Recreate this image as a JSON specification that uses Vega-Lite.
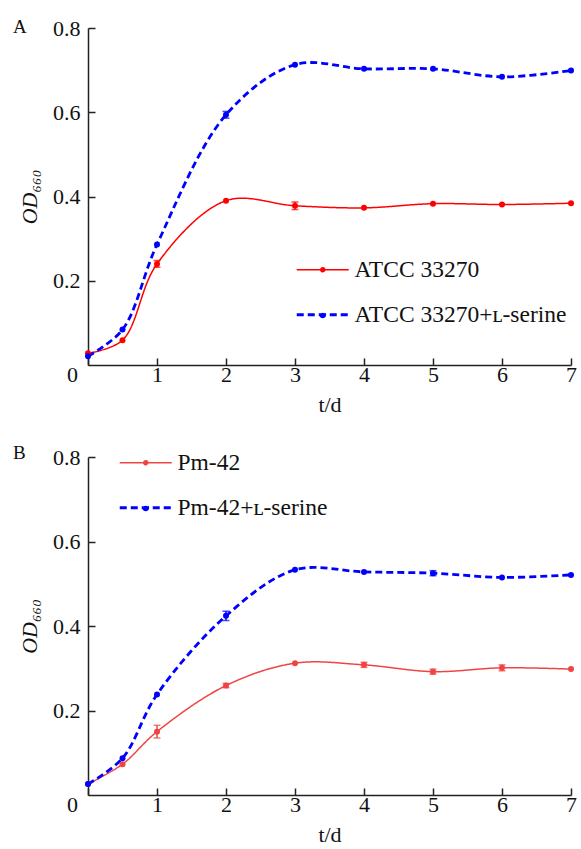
{
  "$schema": "https://vega.github.io/schema/vega-lite/v6.json",
  "background": "white",
  "padding": {"left": 13, "top": 17, "right": 4, "bottom": 3},
  "config": {
    "font": "Liberation Serif",
    "view": {"stroke": null},
    "axis": {
      "labelFont": "Liberation Serif", "labelFontSize": 22, "labelColor": "#111",
      "titleFont": "Liberation Serif", "titleFontSize": 22, "titleFontWeight": "normal", "titleColor": "#111",
      "domain": true, "domainColor": "#222", "domainWidth": 1.5, "ticks": true, "tickColor": "#222", "tickWidth": 1.5, "tickSize": -7,
      "grid": false
    },
    "legend": {
      "orient": "none", "labelFont": "Liberation Serif", "labelFontSize": 23.5, "labelColor": "#111", "labelLimit": 400,
      "symbolType": "M-2.6,0H2.6M0.2,0A0.2,0.2 0 1,1 -0.2,0A0.2,0.2 0 1,1 0.2,0",
      "symbolSize": 400, "symbolStrokeWidth": 2, "rowPadding": 20, "labelOffset": 20, "title": null
    },
    "title": {"font": "Liberation Serif", "fontSize": 19, "fontWeight": "normal", "anchor": "start", "frame": "group", "color": "#111"}
  },
  "resolve": {"scale": {"color": "independent", "strokeDash": "independent", "strokeWidth": "independent"}, "legend": {"color": "independent", "strokeDash": "independent"}},
  "spacing": 29,
  "vconcat": [
    {
      "title": {"text": "A", "offset": -20, "dx": -75},
      "width": 483, "height": 337,
      "data": {"values": [
        {"t": 0, "od": 0.028, "s": "ATCC 33270"},
        {"t": 0.5, "od": 0.059, "s": "ATCC 33270"},
        {"t": 1, "od": 0.240, "lo": 0.232, "hi": 0.248, "s": "ATCC 33270"},
        {"t": 2, "od": 0.390, "s": "ATCC 33270"},
        {"t": 3, "od": 0.378, "lo": 0.369, "hi": 0.387, "s": "ATCC 33270"},
        {"t": 4, "od": 0.373, "s": "ATCC 33270"},
        {"t": 5, "od": 0.383, "s": "ATCC 33270"},
        {"t": 6, "od": 0.381, "s": "ATCC 33270"},
        {"t": 7, "od": 0.384, "s": "ATCC 33270"},
        {"t": 0, "od": 0.021, "s": "ATCC 33270+ʟ-serine"},
        {"t": 0.5, "od": 0.084, "s": "ATCC 33270+ʟ-serine"},
        {"t": 1, "od": 0.286, "s": "ATCC 33270+ʟ-serine"},
        {"t": 2, "od": 0.594, "lo": 0.586, "hi": 0.602, "s": "ATCC 33270+ʟ-serine"},
        {"t": 3, "od": 0.713, "s": "ATCC 33270+ʟ-serine"},
        {"t": 4, "od": 0.703, "s": "ATCC 33270+ʟ-serine"},
        {"t": 5, "od": 0.703, "s": "ATCC 33270+ʟ-serine"},
        {"t": 6, "od": 0.684, "s": "ATCC 33270+ʟ-serine"},
        {"t": 7, "od": 0.699, "s": "ATCC 33270+ʟ-serine"}
      ]},
      "encoding": {
        "x": {"field": "t", "type": "quantitative", "scale": {"domain": [0, 7], "nice": false},
              "axis": {"values": [0, 1, 2, 3, 4, 5, 6, 7], "title": "t/d", "titlePadding": 9, "labelPadding": 6, "labelFlush": false,
                       "labelOffset": {"condition": {"test": "datum.value == 0", "value": -16}, "value": 0}}},
        "y": {"field": "od", "type": "quantitative", "scale": {"domain": [0, 0.8], "nice": false},
              "axis": {"values": [0.2, 0.4, 0.6, 0.8], "format": ".1f", "title": "OD₆₆₀", "titleFontStyle": "italic", "titlePadding": 11, "labelPadding": 15}}
      },
      "layer": [
        {
          "mark": {"type": "line", "interpolate": "catmull-rom"},
          "encoding": {
            "color": {"field": "s", "type": "nominal", "scale": {"domain": ["ATCC 33270", "ATCC 33270+ʟ-serine"], "range": ["#ff0000", "#0000ff"]},
                      "legend": {"legendX": 223, "legendY": 230}},
            "strokeDash": {"field": "s", "type": "nominal", "scale": {"domain": ["ATCC 33270", "ATCC 33270+ʟ-serine"], "range": [[1, 0], [7, 4]]},
                      "legend": {"legendX": 223, "legendY": 230}},
            "strokeWidth": {"field": "s", "type": "nominal", "scale": {"domain": ["ATCC 33270", "ATCC 33270+ʟ-serine"], "range": [1.5, 2.8]}, "legend": null}
          }
        },
        {
          "mark": {"type": "point", "filled": true, "size": 36, "opacity": 1},
          "encoding": {
            "color": {"field": "s", "type": "nominal", "legend": null}
          }
        },
        {
          "transform": [{"filter": "isValid(datum.lo)"}],
          "mark": {"type": "errorbar", "ticks": {"size": 7, "thickness": 1.5}, "thickness": 1.5},
          "encoding": {
            "y": {"field": "lo", "type": "quantitative", "title": "OD₆₆₀"},
            "y2": {"field": "hi"},
            "color": {"field": "s", "type": "nominal", "legend": null}
          }
        }
      ]
    },
    {
      "title": {"text": "B", "offset": -17, "dx": -75},
      "width": 483, "height": 338,
      "data": {"values": [
        {"t": 0, "od": 0.026, "s": "Pm-42"},
        {"t": 0.5, "od": 0.073, "s": "Pm-42"},
        {"t": 1, "od": 0.150, "lo": 0.135, "hi": 0.165, "s": "Pm-42"},
        {"t": 2, "od": 0.259, "lo": 0.254, "hi": 0.264, "s": "Pm-42"},
        {"t": 3, "od": 0.312, "s": "Pm-42"},
        {"t": 4, "od": 0.308, "lo": 0.302, "hi": 0.314, "s": "Pm-42"},
        {"t": 5, "od": 0.292, "lo": 0.286, "hi": 0.298, "s": "Pm-42"},
        {"t": 6, "od": 0.301, "lo": 0.294, "hi": 0.308, "s": "Pm-42"},
        {"t": 7, "od": 0.298, "s": "Pm-42"},
        {"t": 0, "od": 0.026, "s": "Pm-42+ʟ-serine"},
        {"t": 0.5, "od": 0.087, "s": "Pm-42+ʟ-serine"},
        {"t": 1, "od": 0.238, "s": "Pm-42+ʟ-serine"},
        {"t": 2, "od": 0.424, "lo": 0.413, "hi": 0.435, "s": "Pm-42+ʟ-serine"},
        {"t": 3, "od": 0.533, "s": "Pm-42+ʟ-serine"},
        {"t": 4, "od": 0.528, "s": "Pm-42+ʟ-serine"},
        {"t": 5, "od": 0.525, "lo": 0.519, "hi": 0.531, "s": "Pm-42+ʟ-serine"},
        {"t": 6, "od": 0.515, "s": "Pm-42+ʟ-serine"},
        {"t": 7, "od": 0.521, "s": "Pm-42+ʟ-serine"}
      ]},
      "encoding": {
        "x": {"field": "t", "type": "quantitative", "scale": {"domain": [0, 7], "nice": false},
              "axis": {"values": [0, 1, 2, 3, 4, 5, 6, 7], "title": "t/d", "titlePadding": 9, "labelPadding": 6, "labelFlush": false,
                       "labelOffset": {"condition": {"test": "datum.value == 0", "value": -16}, "value": 0}}},
        "y": {"field": "od", "type": "quantitative", "scale": {"domain": [0, 0.8], "nice": false},
              "axis": {"values": [0.2, 0.4, 0.6, 0.8], "format": ".1f", "title": "OD₆₆₀", "titleFontStyle": "italic", "titlePadding": 11, "labelPadding": 15}}
      },
      "layer": [
        {
          "mark": {"type": "line", "interpolate": "catmull-rom"},
          "encoding": {
            "color": {"field": "s", "type": "nominal", "scale": {"domain": ["Pm-42", "Pm-42+ʟ-serine"], "range": ["#f04444", "#0000ff"]},
                      "legend": {"legendX": 46, "legendY": -6}},
            "strokeDash": {"field": "s", "type": "nominal", "scale": {"domain": ["Pm-42", "Pm-42+ʟ-serine"], "range": [[1, 0], [7, 4]]},
                      "legend": {"legendX": 46, "legendY": -6}},
            "strokeWidth": {"field": "s", "type": "nominal", "scale": {"domain": ["Pm-42", "Pm-42+ʟ-serine"], "range": [1.5, 2.8]}, "legend": null}
          }
        },
        {
          "mark": {"type": "point", "filled": true, "size": 36, "opacity": 1},
          "encoding": {
            "color": {"field": "s", "type": "nominal", "legend": null}
          }
        },
        {
          "transform": [{"filter": "isValid(datum.lo)"}],
          "mark": {"type": "errorbar", "ticks": {"size": 7, "thickness": 1.5}, "thickness": 1.5},
          "encoding": {
            "y": {"field": "lo", "type": "quantitative", "title": "OD₆₆₀"},
            "y2": {"field": "hi"},
            "color": {"field": "s", "type": "nominal", "legend": null}
          }
        }
      ]
    }
  ]
}
